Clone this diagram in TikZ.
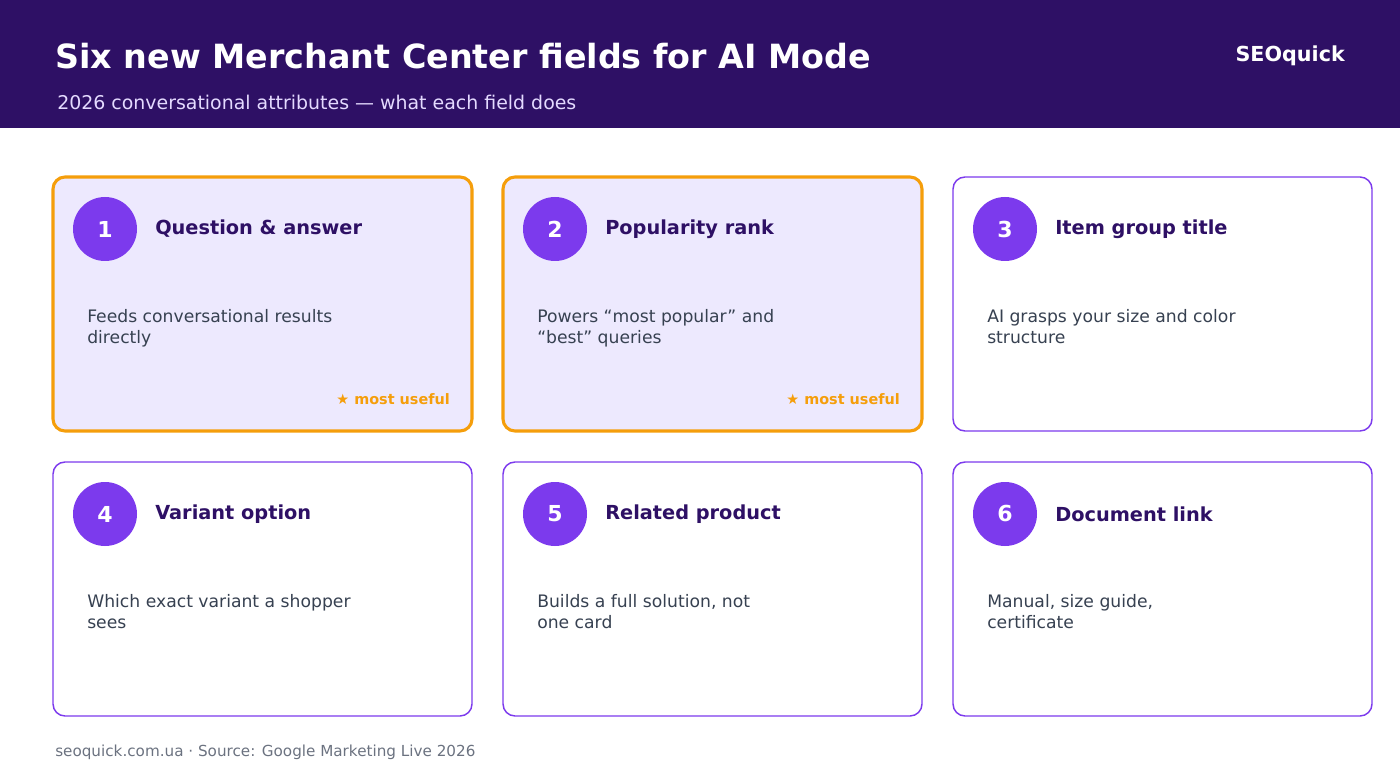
\documentclass[tikz,border=0pt]{standalone}
\usepackage{fontspec}
\setmainfont{DejaVu Sans}
\begin{document}
\begin{tikzpicture}[x=0.75pt,y=-0.75pt,
  card/.style={draw=cpurple,line width=1.1pt,rounded corners=9pt,fill=white},
  hot/.style={draw=corange,line width=2.3pt,rounded corners=9pt,fill=clav},
  num/.style={circle,fill=cpurple,minimum size=48pt,inner sep=0pt,text=white,font=\fontsize{16.5}{20}\selectfont\bfseries},
  ttl/.style={anchor=west,inner sep=0pt,text=cdark,font=\fontsize{14.5}{17}\selectfont\bfseries},
  desc/.style={anchor=north west,inner sep=0pt,align=left,text=cgray,font=\fontsize{12.9}{15.75}\selectfont},
  star/.style={anchor=east,inner sep=0pt,text=corange,font=\fontsize{10.8}{13}\selectfont\bfseries}]
\definecolor{cdark}{HTML}{2E1065}
\definecolor{cpurple}{HTML}{7C3AED}
\definecolor{corange}{HTML}{F59E0B}
\definecolor{clav}{HTML}{EDE9FE}
\definecolor{cgray}{HTML}{374151}
\definecolor{cfoot}{HTML}{6B7280}
\definecolor{csub}{HTML}{E4DAFF}
\useasboundingbox (0,0) rectangle (1400,784);
\fill[cdark] (0,0) rectangle (1400,128);
\node[anchor=west,inner sep=0pt,text=white,font=\fontsize{25}{29}\selectfont\bfseries] (title) at (55,56) {Six new Merchant Center fields for AI Mode};
\node[anchor=west,inner sep=0pt,text=csub,font=\fontsize{14.2}{16}\selectfont] (sub) at (57,102) {2026 conversational attributes — what each field does};
\node[anchor=east,inner sep=0pt,text=white,font=\fontsize{15.5}{18}\selectfont\bfseries] (brand) at (1345,56) {SEOquick};
\foreach \i/\x/\y/\st/\t/\d/\s in {
 1/53/177/hot/{Question \& answer}/{Feeds conversational results\\directly}/1,
 2/503/177/hot/{Popularity rank}/{Powers “most popular” and\\“best” queries}/1,
 3/953/177/card/{Item group title}/{AI grasps your size and color\\structure}/0,
 4/53/462/card/{Variant option}/{Which exact variant a shopper\\sees}/0,
 5/503/462/card/{Related product}/{Builds a full solution, not\\one card}/0,
 6/953/462/card/{Document link}/{Manual, size guide,\\certificate}/0}{
 \draw[\st] (\x,\y) rectangle ++(419,254);
 \node[num] (n\i) at (\x+52,\y+52) {\i};
 \node[ttl] (t\i) at (\x+102,\y+52) {\t};
 \node[desc] (d\i) at (\x+34,\y+132) {\d};
 \ifnum\s=1 \node[star] (s\i) at (\x+397,\y+222) {★ most useful};\fi
}
\node[anchor=west,inner sep=0pt,text=cfoot,font=\fontsize{11.4}{13}\selectfont] (foot) at (55,752) {seoquick.com.ua · Source: Google Marketing Live 2026};
\end{tikzpicture}
\end{document}
